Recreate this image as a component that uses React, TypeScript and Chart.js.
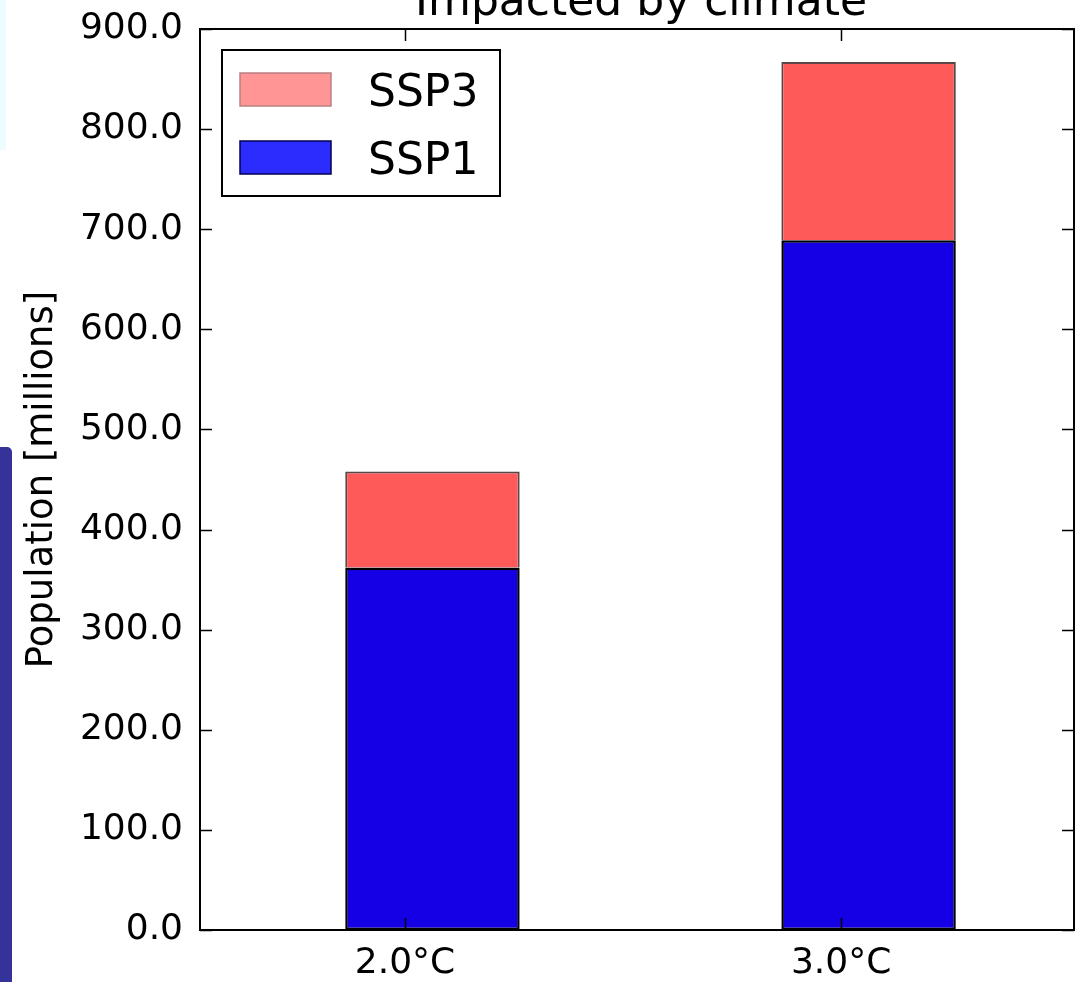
import React, { useEffect, useRef } from "react";
import { Chart, registerables } from "chart.js";

Chart.register(...registerables);

// ---- data ----
const categories = ["2.0°C", "3.0°C"];
const tickPositions = [0, 1];
const barPositions = [0.063, 1.063];
const ssp1Values = [362, 689];
const ssp3Values = [96, 178];
const seriesNames = ["SSP1", "SSP3"];
const legendOrder = ["SSP3", "SSP1"];
const titleText = "Impacted by climate";
const yAxisLabel = "Population [millions]";
const Y_MIN = 0;
const Y_MAX = 900;
const Y_STEP = 100;
const X_MIN = -0.47;
const X_MAX = 1.534;

// ---- styles ----
const FONT = "'DejaVu Sans', 'Liberation Sans', sans-serif";
const BAR_COLORS: Record<string, { fill: string; border: string }> = {
  SSP1: { fill: "#1500e6", border: "#000000" },
  SSP3: { fill: "#ff5a5a", border: "#5a4646" },
};
const LEGEND_COLORS: Record<string, { fill: string; border: string }> = {
  SSP1: { fill: "#2c2cff", border: "#000050" },
  SSP3: { fill: "#ff9595", border: "#b88080" },
};

const framePlugin = {
  id: "mplFrame",
  afterDatasetsDraw(chart: any) {
    const { ctx, chartArea, scales } = chart;
    const { left, right, top, bottom } = chartArea;
    const x = scales.x;
    const y = scales.y;
    const tickLen = 12;
    ctx.save();
    ctx.strokeStyle = "#000";
    ctx.lineWidth = 1.5;
    ctx.beginPath();
    y.ticks.forEach((t: any) => {
      const py = Math.round(y.getPixelForValue(t.value)) + 0.5;
      ctx.moveTo(left, py);
      ctx.lineTo(left + tickLen, py);
      ctx.moveTo(right, py);
      ctx.lineTo(right - tickLen, py);
    });
    x.ticks.forEach((t: any) => {
      const px = Math.round(x.getPixelForValue(t.value)) + 0.5;
      ctx.moveTo(px, bottom);
      ctx.lineTo(px, bottom - tickLen);
      ctx.moveTo(px, top);
      ctx.lineTo(px, top + tickLen);
    });
    ctx.stroke();
    ctx.lineWidth = 2;
    ctx.strokeRect(left, top, right - left, bottom - top);
    ctx.restore();
  },
  afterDraw(chart: any) {
    const { ctx, chartArea } = chart;
    const { left, right, top } = chartArea;
    ctx.save();
    // title (partly cut off at top of the picture)
    ctx.fillStyle = "#000";
    ctx.font = `44px ${FONT}`;
    ctx.textAlign = "center";
    ctx.textBaseline = "alphabetic";
    ctx.fillText(titleText, (left + right) / 2 + 4, top - 14);

    // legend
    const bx = left + 22;
    const by = top + 21;
    const bw = 278;
    const bh = 146;
    ctx.fillStyle = "#fff";
    ctx.fillRect(bx, by, bw, bh);
    ctx.strokeStyle = "#000";
    ctx.lineWidth = 2;
    ctx.strokeRect(bx, by, bw, bh);
    ctx.font = `44px ${FONT}`;
    ctx.textAlign = "left";
    ctx.textBaseline = "alphabetic";
    legendOrder.forEach((name, i) => {
      const ds = chart.data.datasets.find((d: any) => d.label === name);
      const rowTop = by + 23 + i * 68;
      const c = LEGEND_COLORS[name];
      ctx.fillStyle = c.fill;
      ctx.fillRect(bx + 18, rowTop, 91, 33);
      ctx.strokeStyle = c.border;
      ctx.lineWidth = 1.5;
      ctx.strokeRect(bx + 18, rowTop, 91, 33);
      ctx.fillStyle = "#000";
      ctx.fillText(ds ? ds.label : name, bx + 146, rowTop + 33);
    });
    ctx.restore();
  },
};

export default function App() {
  const canvasRef = useRef<HTMLCanvasElement | null>(null);

  useEffect(() => {
    const canvas = canvasRef.current;
    if (!canvas) return;
    const valuesByName: Record<string, number[]> = {
      SSP1: ssp1Values,
      SSP3: ssp3Values,
    };
    const datasets = seriesNames.map((name) => ({
      label: name,
      data: barPositions.map((bx, i) => ({ x: bx, y: valuesByName[name][i] })),
      backgroundColor: BAR_COLORS[name].fill,
      borderColor: BAR_COLORS[name].border,
      borderWidth:
        name === "SSP1" ? 2.5 : { top: 2, left: 2, right: 2, bottom: 0 },
      borderSkipped: false,
      barPercentage: 0.4,
      categoryPercentage: 1,
      stack: "s",
    }));

    const chart = new Chart(canvas, {
      type: "bar",
      data: { datasets: datasets as any },
      options: {
        animation: false,
        responsive: false,
        devicePixelRatio: 1,
        layout: { padding: { top: 29, right: 8, left: 0, bottom: 0 } },
        plugins: {
          legend: { display: false },
          title: { display: false },
          tooltip: { enabled: false },
        },
        scales: {
          x: {
            type: "linear",
            stacked: true,
            min: X_MIN,
            max: X_MAX,
            offset: false,
            grid: { display: false, drawTicks: false },
            border: { display: false },
            afterBuildTicks: (scale: any) => {
              scale.ticks = tickPositions.map((v) => ({ value: v }));
            },
            afterFit: (scale: any) => {
              scale.height = 52;
              scale.paddingLeft = 0;
              scale.paddingRight = 0;
            },
            ticks: {
              autoSkip: false,
              maxRotation: 0,
              minRotation: 0,
              padding: 12,
              color: "#000",
              font: { family: FONT, size: 36 },
              callback: (_v: any, i: number) => categories[i],
            },
          },
          y: {
            stacked: true,
            min: Y_MIN,
            max: Y_MAX,
            grid: { display: false, drawTicks: false },
            border: { display: false },
            afterFit: (scale: any) => {
              scale.width = 200;
              scale.paddingTop = 0;
              scale.paddingBottom = 0;
            },
            ticks: {
              stepSize: Y_STEP,
              padding: 17,
              color: "#000",
              font: { family: FONT, size: 36 },
              callback: (v: any) => Number(v).toFixed(1),
            },
            title: {
              display: true,
              text: yAxisLabel,
              color: "#000",
              font: { family: FONT, size: 37 },
              padding: { top: 20, bottom: 0 },
            },
          },
        },
      },
      plugins: [framePlugin],
    });
    return () => chart.destroy();
  }, []);

  return (
    <div
      style={{
        position: "fixed",
        left: 0,
        top: 0,
        width: 1082,
        height: 982,
        overflow: "hidden",
        background: "#fff",
      }}
    >
      <canvas
        ref={canvasRef}
        width={1082}
        height={982}
        style={{ display: "block", width: 1082, height: 982 }}
      />
      <div
        style={{
          position: "absolute",
          left: 0,
          top: 0,
          width: 6,
          height: 150,
          background: "#effcff",
        }}
      />
      <div
        style={{
          position: "absolute",
          left: 0,
          top: 447,
          width: 12,
          height: 535,
          background: "#35339a",
          borderTopRightRadius: 5,
        }}
      />
    </div>
  );
}
